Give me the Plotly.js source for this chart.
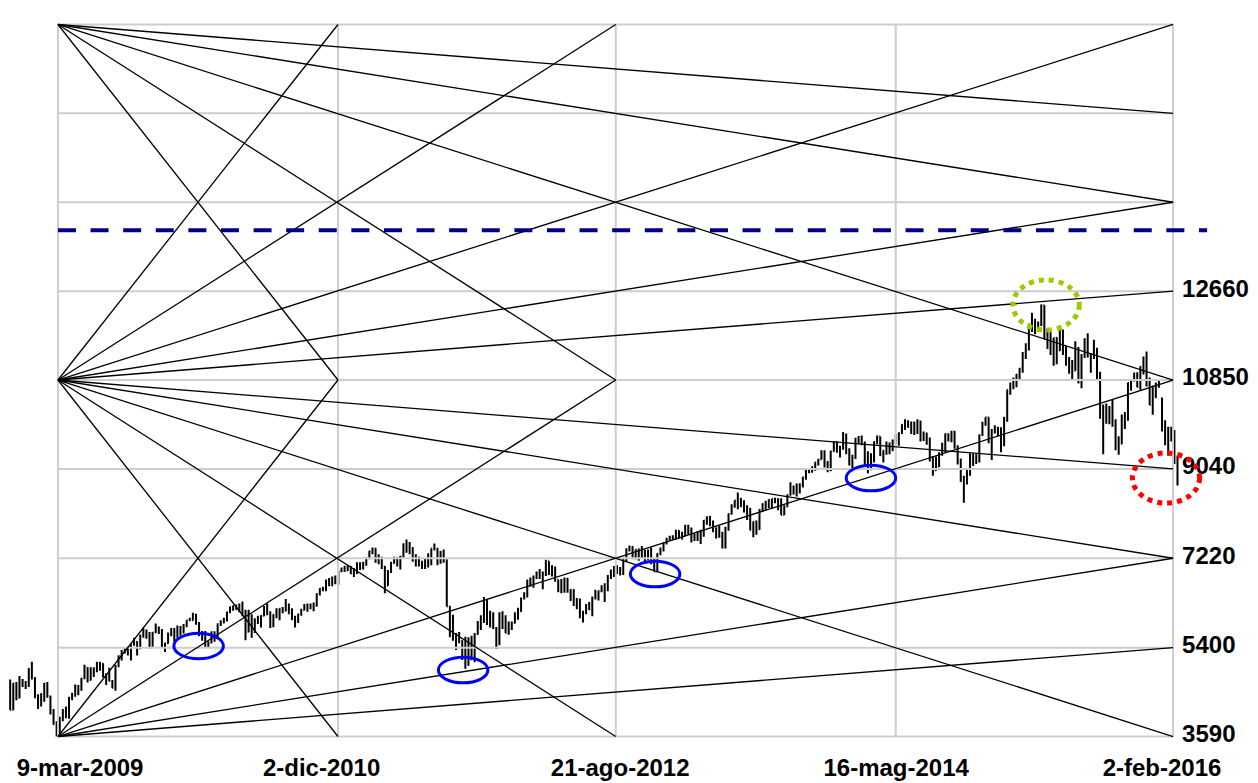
<!DOCTYPE html>
<html><head><meta charset="utf-8">
<script src="https://cdn.plot.ly/plotly-3.0.1.min.js"></script>
<style>html,body{margin:0;padding:0;background:#fff}#chart{width:1258px;height:783px}</style>
</head><body><div id="chart"></div>
<script>
// ---------- grid / axes ----------
const gridDates = ['2009-03-09','2010-12-02','2012-08-21','2014-05-16','2016-02-02'];
const gridLevels = [3590,5400,7220,9040,10850,12660,14470,16280,18090];
const yTickVals = [3590,5400,7220,9040,10850,12660];
const yTickText = ['3590','5400','7220','9040','10850','12660'];
const xLabelDates = ['2009-04-28','2010-10-26','2012-08-31','2014-05-17','2016-01-08'];
const xLabelText = ['9-mar-2009','2-dic-2010','21-ago-2012','16-mag-2014','2-feb-2016'];

// Gann lines: [fromCol, fromRow, toCol, toRow] on the grid above
const gannLines = [
 [0,8,1,4],[0,8,2,4],[0,8,4,4],[0,8,4,6],[0,8,4,7],
 [0,0,1,4],[0,0,2,4],[0,0,4,4],[0,0,4,2],[0,0,4,1],
 [0,4,1,8],[0,4,2,8],[0,4,4,8],[0,4,4,6],[0,4,4,5],
 [0,4,1,0],[0,4,2,0],[0,4,4,0],[0,4,4,2],[0,4,4,3]
];
const resistanceLevel = 13900;
const resistanceDates = ['2009-03-09','2016-04-19'];

// highlights (centre date, centre value)
const supportDates = ['2010-01-21','2011-09-11','2012-11-18','2014-03-21'];
const supportValues = [5433,4944,6899,8854];
const topDate = '2015-04-21', topValue = 12378;
const lastDate = '2016-01-17', lastValue = 8854;

// ---------- weekly bars [open, high, low, close] ----------
const start2008 = '2008-11-21';
const bars2008 = [
[4720,4750,4130,4130],[4130,4680,4130,4670],[4670,4700,4330,4380],[4380,4820,4370,4620],
[4620,4760,4600,4700],[4700,4720,4560,4630],[4630,4980,4600,4970],[4970,5110,4750,4780],
[4780,4800,4370,4430],[4430,4450,4150,4240],[4240,4470,4200,4340],[4340,4680,4300,4670],
[4670,4700,4380,4410],[4410,4420,4040,4080],[4080,4150,3830,3840],[3840,3900,3590,3670]];
const start2009 = '2009-03-13';
const bars2009 = [
[3670,3990,3600,3950],[3950,4150,3900,3990],[3990,4200,3960,4080],[4080,4400,3950,4380],
[4380,4480,4330,4450],[4450,4650,4400,4600],[4600,4640,4430,4600],[4600,4780,4520,4770],
[4770,5050,4760,4990],[4990,5000,4690,4740],[4740,5000,4730,4920],[4920,5000,4800,4940],
[4940,5110,4900,5050],[5050,5110,4930,5070],[5070,5080,4790,4830],[4830,4880,4640,4840],
[4840,4990,4720,4720],[4720,4740,4580,4580],[4580,5050,4520,5030],[5030,5240,5000,5230],
[5230,5350,5140,5330],[5330,5410,5280,5360],[5360,5420,5240,5310],[5310,5470,5140,5460],
[5460,5600,5440,5520],[5520,5530,5240,5380],[5380,5660,5370,5650],[5650,5800,5600,5750],
[5750,5770,5580,5640],[5640,5720,5380,5480],[5480,5720,5420,5710],[5710,5890,5700,5740],
[5740,5830,5680,5740],[5740,5780,5400,5410],[5410,5500,5310,5490],[5490,5710,5480,5680],
[5680,5800,5630,5670],[5670,5800,5520,5620],[5620,5850,5600,5820],[5820,5840,5640,5710],
[5710,5880,5690,5830],[5830,5960,5820,5960],[5960,6010,5940,5960]];
const start2010 = '2010-01-08';
const bars2010 = [
[5960,6110,5950,6040],[6040,6090,5870,5880],[5880,5920,5630,5690],[5690,5740,5540,5610],
[5610,5740,5420,5430],[5430,5530,5400,5500],[5500,5730,5490,5720],[5720,5730,5520,5600],
[5600,5890,5590,5880],[5880,5960,5840,5930],[5930,6010,5890,5980],[5980,6130,5930,6120],
[6120,6240,6100,6230],[6230,6260,6150,6250],[6250,6280,6170,6180],[6180,6300,6120,6260],
[6260,6340,6040,6140],[6140,6170,5550,5720],[5720,6170,5720,6060],[6060,6080,5600,5830],
[5830,6000,5700,5950],[5950,6050,5880,5940],[5940,6060,5810,6050],[6050,6250,6040,6220],
[6220,6300,6060,6100],[6100,6140,5800,5830],[5830,6080,5820,6070],[6070,6200,6000,6040],
[6040,6200,5960,6190],[6190,6230,6100,6150],[6150,6390,6140,6180],[6180,6300,6080,6110],
[6110,6200,5960,6000],[6000,6050,5810,5950],[5950,6090,5900,6080],[6080,6190,6050,6160],
[6160,6290,6160,6230],[6230,6300,6130,6200],[6200,6300,6180,6210],[6210,6320,6140,6250],
[6250,6510,6240,6490],[6490,6610,6460,6600],[6600,6640,6550,6600],[6600,6790,6550,6750],
[6750,6820,6650,6700],[6700,6850,6650,6820],[6820,6870,6690,6850],[6850,6970,6680,6950],
[6950,7030,6940,7000],[7000,7070,6940,6970],[6970,7080,6960,7050],[7050,7060,6900,6910]];
const start2011 = '2011-01-07';
const bars2011 = [
[6910,7020,6840,6950],[6950,7140,6900,7080],[7080,7140,6980,7060],[7060,7150,6990,7100],
[7100,7240,7070,7220],[7220,7370,7200,7370],[7370,7440,7300,7420],[7420,7430,7130,7180],
[7180,7300,7100,7180],[7180,7250,7000,7050],[7050,7060,6510,6660],[6660,6980,6660,6950],
[6950,7150,6920,7120],[7120,7250,7110,7220],[7220,7240,7050,7090],[7090,7270,6990,7250],
[7250,7520,7240,7510],[7510,7600,7330,7490],[7490,7550,7300,7400],[7400,7450,7150,7280],
[7280,7300,7050,7160],[7160,7250,7050,7110],[7110,7170,7000,7070],[7070,7210,7000,7160],
[7160,7320,7030,7120],[7120,7420,7080,7420],[7420,7520,7380,7420],[7420,7430,7080,7220],
[7220,7370,7110,7340],[7340,7400,7130,7160],[7160,7200,6240,6240],[6240,6250,5610,5990],
[5990,6070,5540,5600],[5600,5700,5350,5540],[5540,5720,5490,5540],[5540,5550,5150,5190],
[5190,5620,4970,5570],[5570,5610,5030,5160],[5160,5640,5160,5500],[5500,5700,5100,5670],
[5670,5940,5660,5900],[5900,6060,5760,5970],[5970,6430,5900,6350],[6350,6370,5860,5960],
[5960,6150,5810,6060],[6060,6120,5780,5800],[5800,5820,5370,5490],[5490,6120,5450,6080],
[6080,6140,5780,5990],[5990,6060,5700,5700],[5700,5930,5660,5880],[5880,5930,5760,5900]];
const start2012 = '2012-01-06';
const bars2012 = [
[5900,6120,5890,6060],[6060,6210,5970,6140],[6140,6420,6130,6400],[6400,6530,6380,6510],
[6510,6780,6420,6770],[6770,6830,6640,6690],[6690,6870,6620,6850],[6850,6950,6800,6860],
[6860,7000,6800,6920],[6920,6950,6590,6880],[6880,7190,6860,7160],[7160,7160,6880,6990],
[6990,7080,6850,6950],[6950,7050,6740,6780],[6780,6790,6530,6580],[6580,6800,6510,6760],
[6760,6830,6520,6810],[6810,6820,6520,6560],[6560,6590,6350,6580],[6580,6590,6250,6270],
[6270,6410,6180,6340],[6340,6400,6000,6050],[6050,6150,5910,6130],[6130,6290,6080,6230],
[6230,6330,6160,6260],[6260,6440,6040,6420],[6420,6580,6380,6410],[6410,6560,6360,6560],
[6560,6670,6530,6630],[6630,6710,6330,6690],[6690,6880,6550,6820],[6820,6990,6800,6940],
[6940,7060,6840,7040],[7040,7080,6900,6970],[6970,7040,6870,6970],[6970,7230,6880,7210],
[7210,7420,7150,7410],[7410,7480,7360,7450],[7450,7470,7210,7220],[7220,7400,7200,7400],
[7400,7420,7170,7230],[7230,7470,7210,7380],[7380,7390,7120,7200],[7200,7400,7180,7360],
[7360,7440,7100,7160],[7160,7230,6950,6950],[6950,7320,6940,7310],[7310,7440,7280,7410],
[7410,7540,7360,7520],[7520,7640,7500,7600],[7600,7680,7590,7640],[7640,7690,7600,7610]];
const start2013 = '2013-01-04';
const bars2013 = [
[7610,7800,7600,7780],[7780,7790,7630,7710],[7710,7760,7600,7700],[7700,7900,7670,7880],
[7880,7900,7710,7830],[7830,7840,7540,7650],[7650,7720,7570,7590],[7590,7770,7570,7660],
[7660,7800,7510,7710],[7710,8000,7660,7990],[7990,8070,7900,8060],[8060,8080,7870,7930],
[7930,7990,7750,7800],[7800,7850,7620,7660],[7660,7880,7640,7740],[7740,7760,7420,7460],
[7460,7860,7420,7810],[7810,8130,7780,8120],[8120,8320,8110,8280],[8280,8400,8250,8400],
[8400,8560,8220,8300],[8300,8450,8260,8350],[8350,8400,8150,8250],[8250,8300,8000,8130],
[8130,8250,7790,7790],[7790,7970,7650,7960],[7960,7990,7700,7810],[7810,8220,7800,8210],
[8210,8340,8160,8330],[8330,8390,8200,8280],[8280,8420,8240,8410],[8410,8430,8240,8430],
[8430,8450,8340,8400],[8400,8440,8200,8420],[8420,8440,8100,8100],[8100,8300,8100,8270],
[8270,8520,8270,8510],[8510,8770,8500,8680],[8680,8700,8520,8660],[8660,8740,8480,8720],
[8720,8750,8540,8720],[8720,8880,8660,8870],[8870,9020,8820,9010],[9010,9060,8950,9000],
[9000,9090,8960,9080],[9080,9180,9000,9170],[9170,9240,9110,9230],[9230,9420,9230,9400],
[9400,9420,9070,9170],[9170,9200,8970,9010],[9010,9410,8990,9400],[9400,9600,9390,9590]];
const start2014 = '2014-01-03';
const bars2014 = [
[9590,9600,9370,9430],[9430,9510,9270,9470],[9470,9790,9430,9740],[9740,9760,9340,9390],
[9390,9460,9110,9310],[9310,9330,8990,9300],[9300,9670,9240,9660],[9660,9710,9540,9660],
[9660,9720,9520,9690],[9400,9600,9120,9350],[9350,9400,8950,9060],[9060,9360,9010,9340],
[9340,9600,9170,9590],[9590,9720,9540,9700],[9700,9700,9300,9320],[9320,9420,9170,9410],
[9410,9600,9330,9400],[9400,9570,9340,9560],[9560,9640,9400,9580],[9580,9750,9550,9630],
[9630,9780,9510,9770],[9770,9950,9750,9940],[9940,10050,9830,9990],[9990,10030,9880,9910],
[9910,10000,9750,9990],[9990,10000,9730,9800],[9800,10050,9750,10010],[10010,10020,9600,9670],
[9670,9800,9610,9720],[9720,9780,9530,9640],[9640,9680,9190,9210],[9210,9300,8900,9010],
[9010,9290,9000,9090],[9090,9380,9080,9340],[9340,9570,9310,9470],[9470,9760,9380,9750],
[9750,9760,9600,9700],[9700,9810,9580,9800],[9800,9810,9450,9490],[9490,9520,9130,9200],
[9200,9250,8780,8790],[8790,8900,8350,8850],[8850,9020,8720,8990],[8990,9360,8900,9330],
[9330,9350,9100,9290],[9290,9340,9140,9250],[9250,9740,9170,9730],[9730,10000,9710,9980],
[9980,10090,9920,10090],[10090,10090,9560,9590],[9590,9850,9220,9790],[9790,9930,9760,9800],
[9800,9900,9700,9760]];
const start2015 = '2015-01-09';
const bars2015 = [
[9760,9890,9380,9650],[9650,10100,9500,10030],[10030,10650,10000,10650],[10650,10800,10550,10690],
[10690,10900,10660,10850],[10850,10970,10700,10960],[10960,11100,10860,11050],[11050,11420,11000,11400],
[11400,11600,11280,11550],[11550,12000,11450,11900],[11900,12220,11830,12040],[12040,12100,11780,11870],
[11870,12040,11840,11970],[11970,12390,11950,12370],[12370,12370,11690,11690],[11690,11900,11480,11810],
[11810,11860,11360,11450],[11450,11710,11140,11710],[11710,11720,11170,11450],[11450,11920,11440,11860],
[11860,11880,11360,11410],[11410,11550,11140,11200],[11200,11320,10980,11200],[11200,11260,10870,11040],
[11040,11640,11040,11490],[11490,11520,10780,11060],[11060,11380,10680,11320],[11320,11700,11300,11670],
[11670,11800,11310,11350],[11350,11400,11000,11310],[11310,11670,11280,11490],[11490,11500,10840,10990],
[10990,11020,10060,10120],[10120,10350,9340,10300],[10300,10370,9960,10040],[10040,10320,9950,10120],
[10120,10450,9900,9920],[9920,10050,9420,9690],[9690,9700,9330,9550],[9550,10150,9540,10100],
[10100,10200,9850,10100],[10100,10800,10020,10790],[10790,10860,10630,10850],[10850,11000,10820,10990],
[10990,11010,10700,10710],[10710,11130,10650,11120],[11120,11330,10960,11290],[11290,11430,10720,10750],
[10750,10900,10340,10340],[10340,10740,10140,10610],[10610,10800,10480,10730],[10730,10860,10690,10740]];
const start2016 = '2016-01-08';
const bars2016 = [
[10480,10490,9800,9850],[9850,10030,9520,9550],[9550,9900,9310,9760],[9760,9900,9600,9800],
[9800,9830,9140,9290],[9290,9300,8700,8970]];

// ---------- build ----------
function addDays(iso, n){const d=new Date(iso+'T00:00:00Z');d.setUTCDate(d.getUTCDate()+n);return d.toISOString().slice(0,10);}
const blocks=[[start2008,bars2008],[start2009,bars2009],[start2010,bars2010],[start2011,bars2011],
 [start2012,bars2012],[start2013,bars2013],[start2014,bars2014],[start2015,bars2015],[start2016,bars2016]];
const bx=[],bo=[],bh=[],bl=[],bc=[];
blocks.forEach(([s,bars])=>bars.forEach((b,i)=>{bx.push(addDays(s,7*i));bo.push(b[0]);bh.push(b[1]);bl.push(b[2]);bc.push(b[3]);}));

const gx=[],gy=[];
gridDates.forEach(d=>{gx.push(d,d,null);gy.push(gridLevels[0],gridLevels[gridLevels.length-1],null);});
gridLevels.forEach(v=>{gx.push(gridDates[0],gridDates[gridDates.length-1],null);gy.push(v,v,null);});

const lx=[],ly=[];
gannLines.forEach(([c0,r0,c1,r1])=>{lx.push(gridDates[c0],gridDates[c1],null);ly.push(gridLevels[r0],gridLevels[r1],null);});

const traces=[
 {type:'scatter',mode:'lines',x:gx,y:gy,line:{color:'#cdcdcd',width:2},hoverinfo:'skip',showlegend:false},
 {type:'scatter',mode:'lines',x:lx,y:ly,line:{color:'#000',width:1.3},hoverinfo:'skip',showlegend:false},
 {type:'ohlc',x:bx,open:bo,high:bh,low:bl,close:bc,tickwidth:0.3,
  increasing:{line:{color:'#000',width:2}},decreasing:{line:{color:'#000',width:2}},hoverinfo:'skip',showlegend:false},
 {type:'scatter',mode:'lines',x:resistanceDates,y:[resistanceLevel,resistanceLevel],
  line:{color:'#000080',width:4,dash:'18px,14.6px'},hoverinfo:'skip',showlegend:false}
];

function ellipse(date,val,hd,hv,color,width,dash){
 return {type:'circle',xref:'x',yref:'y',x0:addDays(date,-hd),x1:addDays(date,hd),y0:val-hv,y1:val+hv,
  line:{color:color,width:width,dash:dash||'solid'},layer:'above'};
}
const shapes=supportDates.map((d,i)=>ellipse(d,supportValues[i],56,260,'#0000ff',3));
shapes.push(ellipse(topDate,topValue,75,510,'#99cc00',5,'5px,5px'));
shapes.push(ellipse(lastDate,lastValue,76,510,'#ff0000',5,'5px,5px'));

const font={family:'Liberation Sans, Arial, sans-serif',size:24,color:'#000',weight:'bold'};
const layout={
 width:1258,height:783,margin:{l:4,r:46,t:10,b:43},
 paper_bgcolor:'#fff',plot_bgcolor:'#fff',showlegend:false,hovermode:false,
 xaxis:{type:'date',range:['2008-11-07','2016-04-30'],showgrid:false,zeroline:false,showline:false,ticks:'',
  tickmode:'array',tickvals:xLabelDates,ticktext:xLabelText,tickfont:font,
  ticklabelstandoff:11,rangeslider:{visible:false},fixedrange:true},
 yaxis:{range:[3519,18385],anchor:'free',position:0.9678,side:'right',showgrid:false,zeroline:false,showline:false,
  ticks:'',tickmode:'array',tickvals:yTickVals,ticktext:yTickText,tickfont:font,ticklabelstandoff:8,
  ticklabelshift:-3,fixedrange:true},
 shapes:shapes
};
Plotly.newPlot('chart',traces,layout,{displayModeBar:false,staticPlot:true});
</script></body></html>
